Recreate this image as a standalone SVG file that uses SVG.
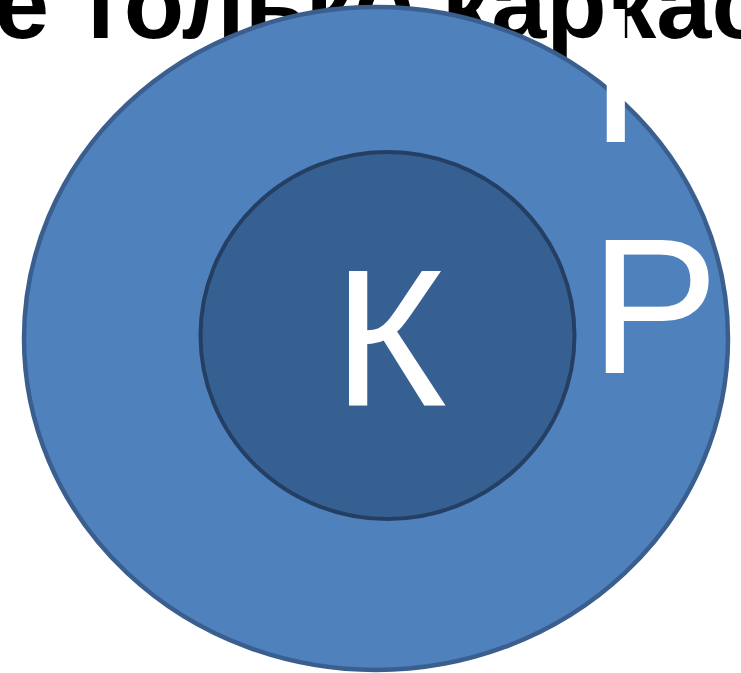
<svg xmlns="http://www.w3.org/2000/svg" width="741" height="673" viewBox="0 0 741 673">
<style>
.title{font-family:"Liberation Sans",Arial,sans-serif;font-weight:bold;font-size:99px;fill:#000}
.lbl{font-family:"Liberation Sans",Arial,sans-serif;fill:#fff}
</style>
<rect width="741" height="673" fill="#fff"/>
<g id="title"><text class="title" x="-6" y="38">е только каркас</text></g>
<g id="outer"><ellipse cx="376" cy="338.5" rx="352" ry="331.5" fill="#4F81BD" stroke="#3A5F8E" stroke-width="4.5"/></g>
<g id="inner"><ellipse cx="387.5" cy="335.5" rx="187" ry="183.5" fill="#376092" stroke="#243F63" stroke-width="4"/></g>
<g id="labels">
<text class="lbl" x="333" y="405" font-size="195">К</text>
<text class="lbl" x="590" y="373" font-size="193">Р</text>
<text class="lbl" x="589" y="142" font-size="193">І</text>
</g>
<g id="connectors"/>
</svg>
